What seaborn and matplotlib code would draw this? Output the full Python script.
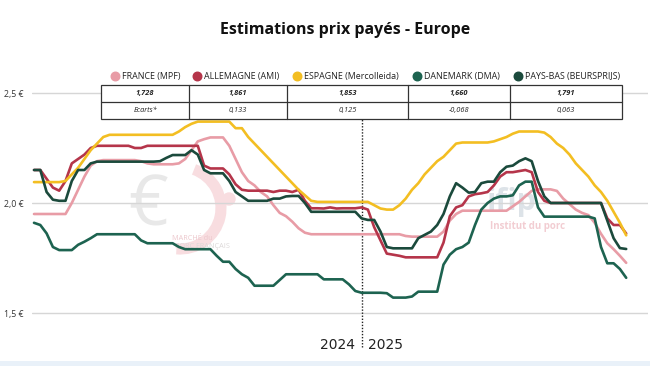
import numpy as np
import pandas as pd
import matplotlib.pyplot as plt
import seaborn as sns
from matplotlib.patches import Rectangle, Arc

# ======================================================
# Données (prix hebdo, €/kg) - semaines 2024 puis 2025
# ======================================================
france = [1.95, 1.95, 1.95, 1.95, 1.95, 1.95,
          2.00, 2.06, 2.12, 2.17, 2.19,
          2.195, 2.195, 2.195, 2.195, 2.195, 2.195,
          2.19, 2.18,
          2.176, 2.176, 2.176, 2.176,
          2.18, 2.20, 2.24, 2.28, 2.29, 2.298, 2.298, 2.298,
          2.26, 2.20, 2.14, 2.10, 2.08, 2.05, 2.03, 1.99, 1.955, 1.94, 1.915, 1.885, 1.865, 1.858,
          1.858, 1.858, 1.858, 1.858, 1.858, 1.858, 1.858, 1.858, 1.858, 1.858, 1.858, 1.858, 1.858, 1.858,
          1.85,
          1.847, 1.847, 1.847, 1.847, 1.847,
          1.87, 1.92, 1.95, 1.965, 1.965, 1.965, 1.965, 1.965, 1.965, 1.965, 1.965, 1.985, 2.005, 2.03,
          2.055, 2.062, 2.062, 2.062, 2.055, 2.02, 1.995, 1.97, 1.955, 1.945, 1.91, 1.86, 1.817, 1.79,
          1.76, 1.728]

allemagne = [2.15, 2.15, 2.11, 2.07, 2.056, 2.10, 2.18, 2.20, 2.22, 2.25, 2.26,
             2.26, 2.26, 2.26, 2.26, 2.26,
             2.25, 2.25,
             2.26, 2.26, 2.26, 2.26, 2.26, 2.26, 2.26, 2.26, 2.26,
             2.17, 2.157, 2.157, 2.157, 2.13, 2.085, 2.06, 2.056, 2.056, 2.056, 2.056, 2.05, 2.056, 2.056,
             2.05, 2.06,
             2.01, 1.976, 1.976, 1.975, 1.98, 1.975, 1.976, 1.976, 1.976, 1.98, 1.97,
             1.89, 1.83, 1.77, 1.765, 1.76, 1.753,
             1.753, 1.753, 1.753, 1.753, 1.753,
             1.82, 1.94, 1.98, 1.99, 2.03, 2.04, 2.044, 2.05, 2.08, 2.12, 2.14, 2.14, 2.145, 2.15, 2.14,
             2.05, 2.01, 2.0,
             2.0, 2.0, 2.0, 2.0, 2.0, 2.0, 2.0, 2.0,
             1.93, 1.90, 1.90, 1.861]

espagne = [2.095, 2.095, 2.095, 2.095, 2.095,
           2.10, 2.13, 2.16, 2.20, 2.24, 2.27, 2.30, 2.31,
           2.31, 2.31, 2.31, 2.31, 2.31, 2.31, 2.31, 2.31, 2.31, 2.31,
           2.325, 2.345, 2.36, 2.37, 2.37, 2.37, 2.37, 2.37, 2.37,
           2.34, 2.34, 2.30, 2.27, 2.24, 2.21, 2.18, 2.15, 2.12, 2.09, 2.06, 2.035, 2.01,
           2.005, 2.005, 2.005, 2.005, 2.005, 2.005, 2.005, 2.005, 2.005,
           1.99, 1.975, 1.97, 1.97, 1.99, 2.02, 2.06, 2.09, 2.13, 2.16, 2.19, 2.21, 2.24, 2.27, 2.275,
           2.275, 2.275, 2.275, 2.275,
           2.28, 2.29, 2.30, 2.315, 2.325, 2.325, 2.325, 2.325, 2.32, 2.30, 2.27, 2.25, 2.22, 2.18,
           2.15, 2.12, 2.08, 2.05, 2.01, 1.96, 1.91, 1.853]

danemark = [1.91, 1.90, 1.862, 1.80, 1.786, 1.786, 1.786, 1.81, 1.824, 1.84, 1.858,
            1.858, 1.858, 1.858, 1.858, 1.858, 1.858,
            1.83, 1.817, 1.817, 1.817, 1.817, 1.817,
            1.80, 1.79, 1.79, 1.79, 1.79, 1.79,
            1.76, 1.733, 1.733, 1.70, 1.676, 1.66, 1.624, 1.624, 1.624, 1.624,
            1.65, 1.676, 1.676, 1.676, 1.676, 1.676, 1.676, 1.653, 1.653, 1.653, 1.653,
            1.63, 1.60, 1.592, 1.592, 1.592, 1.592, 1.59, 1.57, 1.57, 1.57, 1.575, 1.597, 1.597, 1.597,
            1.597,
            1.72, 1.765, 1.79, 1.80, 1.82, 1.90, 1.97, 2.00, 2.02, 2.03, 2.03, 2.035, 2.08, 2.097, 2.097,
            1.98, 1.938,
            1.938, 1.938, 1.938, 1.938, 1.938, 1.938, 1.938,
            1.93, 1.80, 1.726, 1.726, 1.70, 1.66]

pays_bas = [2.15, 2.15, 2.05, 2.015, 2.01, 2.01, 2.10, 2.15, 2.15, 2.18,
            2.188, 2.188, 2.188, 2.188, 2.188, 2.188, 2.188, 2.188, 2.188, 2.188,
            2.19, 2.205, 2.218, 2.218, 2.218, 2.24, 2.22, 2.15, 2.135,
            2.135, 2.135,
            2.10, 2.05, 2.03, 2.01, 2.01, 2.01, 2.01, 2.02, 2.02, 2.03, 2.032, 2.032, 2.00, 1.96,
            1.96, 1.96, 1.96, 1.96, 1.96, 1.96, 1.96,
            1.93, 1.923, 1.923, 1.87, 1.80, 1.794, 1.794, 1.794, 1.794,
            1.84, 1.855, 1.87, 1.90, 1.95, 2.03, 2.09, 2.07, 2.047, 2.05, 2.09, 2.097, 2.097, 2.14,
            2.165, 2.17, 2.19, 2.203, 2.19, 2.10, 2.03, 2.0,
            2.0, 2.0, 2.0, 2.0, 2.0, 2.0, 2.0, 2.0,
            1.92, 1.84, 1.795, 1.791]

series_names = ["FRANCE (MPF)", "ALLEMAGNE (AMI)", "ESPAGNE (Mercolleida)",
                "DANEMARK (DMA)", "PAYS-BAS (BEURSPRIJS)"]
colors = ["#E89CA6", "#B5354A", "#F3BE22", "#1D6350", "#1B4A3C"]
last_prices = ["1,728", "1,861", "1,853", "1,660", "1,791"]
ecarts = ["Ecarts*", "0,133", "0,125", "-0,068", "0,063"]
year_labels = ["2024", "2025"]
weeks_2024 = 52
yticks = [1.5, 2.0, 2.5]
ytick_labels = ["1,5 €", "2,0 €", "2,5 €"]

values = [france, allemagne, espagne, danemark, pays_bas]
frames = []
for name, v in zip(series_names, values):
    frames.append(pd.DataFrame({"semaine": np.arange(len(v)), "prix": v, "pays": name}))
df = pd.concat(frames, ignore_index=True)

# ======================================================
# Figure
# ======================================================
sns.set_style("white")
plt.rcParams["font.family"] = ["Open Sans", "DejaVu Sans"]

W, H = 650, 366
fig = plt.figure(figsize=(W / 100, H / 100), dpi=100)

# fond : filigranes
bg = fig.add_axes([0, 0, 1, 1], zorder=0)
bg.set_xlim(0, W)
bg.set_ylim(H, 0)
bg.axis("off")
bg.text(148, 208, "€", fontsize=50, color="#e8e8e8", ha="center", va="center")
bg.add_patch(Arc((180, 208), 82, 82, theta1=-70, theta2=95, color="#f8dde0", lw=8))
bg.add_patch(plt.Circle((229, 199), 6, color="#f8dde0"))
bg.text(192, 238, "MARCHÉ du", fontsize=5.2, color="#ecc7cc", ha="center", va="center")
bg.text(202, 247, "PORC FRANÇAIS", fontsize=5.2, color="#dcd8d8", ha="center", va="center")
bg.text(512, 202, "ifip", fontsize=22, color="#dde3e8", ha="center", va="center", fontweight="bold")
bg.text(528, 227, "Institut du porc", fontsize=7, color="#f2cdd2", ha="center", va="center",
        fontweight="bold")
bg.add_patch(Rectangle((0, 361), W, 5, color="#e9f1f9", lw=0))

# axes principales
left_px, right_px, top_px, bottom_px = 32, 648, 75, 350
ax = fig.add_axes([left_px / W, 1 - bottom_px / H, (right_px - left_px) / W, (bottom_px - top_px) / H],
                  zorder=1)
ax.patch.set_alpha(0)

for y in yticks:
    ax.axhline(y, color="#d6d6d6", lw=1, zorder=0)

sns.lineplot(data=df, x="semaine", y="prix", hue="pays", palette=colors,
             hue_order=series_names, lw=1.9, legend=False, ax=ax, zorder=3)

step = 6.3
x0 = 34
ax.set_xlim((left_px - x0) / step, (right_px - x0) / step)
ax.set_ylim(2.0 - (bottom_px - 203) / 220, 2.0 + (203 - top_px) / 220)
ax.set_yticks(yticks)
ax.set_yticklabels(ytick_labels)
ax.tick_params(axis="y", length=0, pad=6, labelsize=6.3, labelcolor="#333333")
ax.set_xticks([])
ax.set_xlabel("")
ax.set_ylabel("")
sns.despine(ax=ax, left=True, bottom=True)

# séparation des années
ax.axvline(weeks_2024, ymin=(bottom_px - 347) / (bottom_px - top_px),
           ymax=(bottom_px - 119) / (bottom_px - top_px), color="#222222", lw=1, ls=(0, (1, 1.2)))
ax.text(weeks_2024 - 1.0, 1.5 - 32 / 220, year_labels[0], ha="right", va="center", fontsize=10,
        color="#222222", family=["DejaVu Sans"])
ax.text(weeks_2024 + 1.0, 1.5 - 32 / 220, year_labels[1], ha="left", va="center", fontsize=10,
        color="#222222", family=["DejaVu Sans"])

# premier plan : titre, légende, tableau
fg = fig.add_axes([0, 0, 1, 1], zorder=2)
fg.set_xlim(0, W)
fg.set_ylim(H, 0)
fg.axis("off")
fg.patch.set_alpha(0)

fg.text(345, 30, "Estimations prix payés - Europe", ha="center", va="center", fontsize=11.5,
        fontweight="bold", color="#111111")

legend_x = [115, 197, 297, 417, 518]
for lx, name, c in zip(legend_x, series_names, colors):
    fg.scatter([lx], [76], s=38, color=c, zorder=3)
    fg.text(lx + 7, 76, name, ha="left", va="center", fontsize=6.4, color="#222222")

col_edges = [101, 189, 287, 408, 510, 622]
row_edges = [85, 102, 119]
fg.add_patch(Rectangle((col_edges[0], row_edges[0]), col_edges[-1] - col_edges[0],
                       row_edges[-1] - row_edges[0], facecolor="white", edgecolor="#333333", lw=0.9))
fg.plot([col_edges[0], col_edges[-1]], [row_edges[1], row_edges[1]], color="#333333", lw=0.9)
for cx in col_edges[1:-1]:
    fg.plot([cx, cx], [row_edges[0], row_edges[-1]], color="#333333", lw=0.9)
for i in range(5):
    cx = (col_edges[i] + col_edges[i + 1]) / 2
    fg.text(cx, (row_edges[0] + row_edges[1]) / 2, last_prices[i], ha="center", va="center",
            fontsize=5.3, fontweight="bold", fontstyle="italic", color="#222222")
    fg.text(cx, (row_edges[1] + row_edges[2]) / 2, ecarts[i], ha="center", va="center",
            fontsize=5.3, fontstyle="italic", color="#222222")

fig.savefig("out.png", dpi=100)
